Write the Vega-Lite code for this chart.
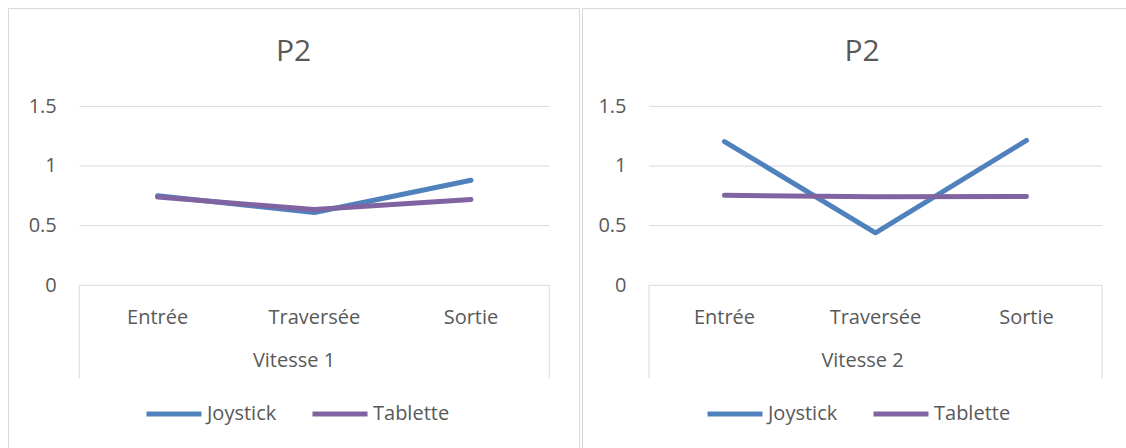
{
  "$schema": "https://vega.github.io/schema/vega-lite/v6.json",
  "description": "P2 - Joystick vs Tablette, Vitesse 1 et Vitesse 2",
  "padding": {"left": 7, "top": 7, "right": 0, "bottom": 0},
  "bounds": "flush",
  "spacing": 3,
  "data": {
    "values": [
      {"vitesse": "Vitesse 1", "position": "Entrée", "appareil": "Joystick", "valeur": 0.75},
      {"vitesse": "Vitesse 1", "position": "Traversée", "appareil": "Joystick", "valeur": 0.61},
      {"vitesse": "Vitesse 1", "position": "Sortie", "appareil": "Joystick", "valeur": 0.88},
      {"vitesse": "Vitesse 1", "position": "Entrée", "appareil": "Tablette", "valeur": 0.74},
      {"vitesse": "Vitesse 1", "position": "Traversée", "appareil": "Tablette", "valeur": 0.635},
      {"vitesse": "Vitesse 1", "position": "Sortie", "appareil": "Tablette", "valeur": 0.72},
      {"vitesse": "Vitesse 2", "position": "Entrée", "appareil": "Joystick", "valeur": 1.205},
      {"vitesse": "Vitesse 2", "position": "Traversée", "appareil": "Joystick", "valeur": 0.44},
      {"vitesse": "Vitesse 2", "position": "Sortie", "appareil": "Joystick", "valeur": 1.214},
      {"vitesse": "Vitesse 2", "position": "Entrée", "appareil": "Tablette", "valeur": 0.754},
      {"vitesse": "Vitesse 2", "position": "Traversée", "appareil": "Tablette", "valeur": 0.743},
      {"vitesse": "Vitesse 2", "position": "Sortie", "appareil": "Tablette", "valeur": 0.745}
    ]
  },
  "hconcat": [
    {
      "width": 571,
      "height": 445,
      "title": {"text": "P2", "offset": -59},
      "layer": [
        {
          "data": {"values": [{"g": 0}, {"g": 0.5}, {"g": 1}, {"g": 1.5}]},
          "mark": {"type": "rule", "color": "#D9D9D9", "strokeWidth": 1},
          "encoding": {
            "x": {"datum": "Entrée", "bandPosition": 0},
            "x2": {"datum": "Sortie", "bandPosition": 1},
            "y": {"field": "g", "type": "quantitative"}
          }
        },
        {
          "data": {"values": [{}]},
          "mark": {"type": "rule", "color": "#D9D9D9", "strokeWidth": 1},
          "encoding": {
            "x": {"datum": "Entrée", "bandPosition": 0},
            "y": {"datum": 0},
            "y2": {"datum": -0.78}
          }
        },
        {
          "data": {"values": [{}]},
          "mark": {"type": "rule", "color": "#D9D9D9", "strokeWidth": 1},
          "encoding": {
            "x": {"datum": "Sortie", "bandPosition": 1},
            "y": {"datum": 0},
            "y2": {"datum": -0.78}
          }
        },
        {
          "transform": [{"filter": "datum.vitesse == 'Vitesse 1'"}],
          "mark": {"type": "line", "strokeWidth": 5, "strokeCap": "round", "strokeJoin": "round"},
          "encoding": {
            "x": {
              "field": "position",
              "type": "nominal",
              "sort": null,
              "scale": {"type": "band", "domain": ["Entrée", "Traversée", "Sortie"], "paddingInner": 0, "paddingOuter": 0.3223, "align": 0.706},
              "axis": {"title": "Vitesse 1", "offset": -167.7, "labelPadding": 32, "titlePadding": 23}
            },
            "y": {
              "field": "valeur",
              "type": "quantitative",
              "scale": {"domain": [-1.405, 2.324], "nice": false, "zero": false},
              "axis": {"values": [0, 0.5, 1, 1.5], "format": "~g", "offset": -71.3, "labelPadding": 23, "title": null}
            },
            "color": {
              "field": "appareil",
              "type": "nominal",
              "scale": {"domain": ["Joystick", "Tablette"], "range": ["#4F81BD", "#8064A2"]},
              "legend": {"orient": "none", "legendX": 136, "legendY": 376}
            }
          }
        }
      ]
    },
    {
      "width": 560,
      "height": 445,
      "title": {"text": "P2", "offset": -59},
      "layer": [
        {
          "data": {"values": [{"g": 0}, {"g": 0.5}, {"g": 1}, {"g": 1.5}]},
          "mark": {"type": "rule", "color": "#D9D9D9", "strokeWidth": 1},
          "encoding": {
            "x": {"datum": "Entrée", "bandPosition": 0},
            "x2": {"datum": "Sortie", "bandPosition": 1},
            "y": {"field": "g", "type": "quantitative"}
          }
        },
        {
          "data": {"values": [{}]},
          "mark": {"type": "rule", "color": "#D9D9D9", "strokeWidth": 1},
          "encoding": {
            "x": {"datum": "Entrée", "bandPosition": 0},
            "y": {"datum": 0},
            "y2": {"datum": -0.78}
          }
        },
        {
          "data": {"values": [{}]},
          "mark": {"type": "rule", "color": "#D9D9D9", "strokeWidth": 1},
          "encoding": {
            "x": {"datum": "Sortie", "bandPosition": 1},
            "y": {"datum": 0},
            "y2": {"datum": -0.78}
          }
        },
        {
          "transform": [{"filter": "datum.vitesse == 'Vitesse 2'"}],
          "mark": {"type": "line", "strokeWidth": 5, "strokeCap": "round", "strokeJoin": "round"},
          "encoding": {
            "x": {
              "field": "position",
              "type": "nominal",
              "sort": null,
              "scale": {"type": "band", "domain": ["Entrée", "Traversée", "Sortie"], "paddingInner": 0, "paddingOuter": 0.3543, "align": 0.626},
              "axis": {"title": "Vitesse 2", "offset": -167.7, "labelPadding": 32, "titlePadding": 23}
            },
            "y": {
              "field": "valeur",
              "type": "quantitative",
              "scale": {"domain": [-1.405, 2.324], "nice": false, "zero": false},
              "axis": {"values": [0, 0.5, 1, 1.5], "format": "~g", "offset": -67, "labelPadding": 23, "title": null}
            },
            "color": {
              "field": "appareil",
              "type": "nominal",
              "scale": {"domain": ["Joystick", "Tablette"], "range": ["#4F81BD", "#8064A2"]},
              "legend": {"orient": "none", "legendX": 123, "legendY": 376}
            }
          }
        }
      ]
    }
  ],
  "resolve": {"scale": {"color": "independent"}, "legend": {"color": "independent"}},
  "config": {
    "font": "Open Sans",
    "background": "white",
    "view": {"stroke": "#D9D9D9", "strokeWidth": 1},
    "title": {"fontSize": 30, "fontWeight": "normal", "color": "#595959", "anchor": "middle", "frame": "group", "baseline": "alphabetic"},
    "axis": {
      "domain": false,
      "ticks": false,
      "tickSize": 0,
      "grid": false,
      "labelFontSize": 20,
      "labelColor": "#595959",
      "titleFontSize": 20,
      "titleFontWeight": "normal",
      "titleColor": "#595959"
    },
    "axisX": {"labelAngle": 0, "labelBaseline": "middle"},
    "legend": {
      "title": null,
      "direction": "horizontal",
      "symbolType": "stroke",
      "symbolSize": 3025,
      "symbolStrokeWidth": 5,
      "labelOffset": 3,
      "columnPadding": 25,
      "labelFontSize": 20,
      "labelColor": "#595959"
    }
  }
}
